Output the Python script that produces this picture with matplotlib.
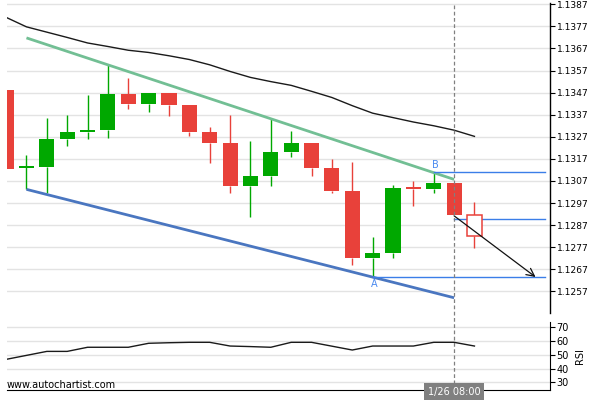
import matplotlib
matplotlib.use("Agg")
import matplotlib.pyplot as plt
import matplotlib.transforms as mtransforms
import numpy as np

# ---------------- data ----------------
opens  = [1.13482, 1.13132, 1.13134, 1.13261, 1.13293, 1.13300, 1.13463, 1.13418,
          1.13468, 1.13414, 1.13291, 1.13242, 1.13048, 1.13094, 1.13202, 1.13242,
          1.13128, 1.13024, 1.12722, 1.12745, 1.13044, 1.13033, 1.13060, 1.12914]
highs  = [1.13482, 1.13186, 1.13353, 1.13367, 1.13458, 1.13598, 1.13535, 1.13468,
          1.13468, 1.13414, 1.13313, 1.13367, 1.13249, 1.13352, 1.13296, 1.13242,
          1.13168, 1.13158, 1.12815, 1.13051, 1.13071, 1.13112, 1.13060, 1.12973]
lows   = [1.13124, 1.13032, 1.13014, 1.13227, 1.13258, 1.13263, 1.13397, 1.13383,
          1.13365, 1.13273, 1.13150, 1.13014, 1.12905, 1.13046, 1.13180, 1.13092,
          1.13017, 1.12688, 1.12634, 1.12720, 1.12956, 1.13014, 1.12917, 1.12765]
closes = [1.13124, 1.13134, 1.13260, 1.13291, 1.13300, 1.13463, 1.13418, 1.13468,
          1.13414, 1.13293, 1.13243, 1.13048, 1.13092, 1.13201, 1.13242, 1.13130,
          1.13026, 1.12722, 1.12744, 1.13038, 1.13033, 1.13060, 1.12917, 1.12819]
moving_avg = [1.13811, 1.13768, 1.13744, 1.13720, 1.13695, 1.13679, 1.13662, 1.13652,
              1.13637, 1.13620, 1.13596, 1.13566, 1.13539, 1.13520, 1.13503, 1.13476,
              1.13448, 1.13411, 1.13377, 1.13357, 1.13337, 1.13320, 1.13300, 1.13272]
rsi = [46.7, 49.6, 52.5, 52.5, 55.5, 55.5, 55.5, 58.4, 58.8, 59.1, 59.1, 56.4,
       56.0, 55.5, 59.1, 59.1, 56.3, 53.5, 56.4, 56.4, 56.4, 59.1, 59.1, 56.4]

upper_line_x = [1, 22]
upper_line_y = [1.13718, 1.13077]
lower_line_x = [1, 22]
lower_line_y = [1.13032, 1.12541]
point_a = (18, 1.12634)
point_b = (21, 1.13112)
forecast_level = 1.12896
arrow_x = [22, 26]
arrow_y = [1.12912, 1.12635]
hline_end = 26.47
current_index = 22
date_label = "1/26 08:00"
price_ticks = [1.1257, 1.1267, 1.1277, 1.1287, 1.1297, 1.1307, 1.1317,
               1.1327, 1.1337, 1.1347, 1.1357, 1.1367, 1.1377, 1.1387]
rsi_ticks = [30, 40, 50, 60, 70]

# ---------------- styling ----------------
RED = "#e8413a"
GREEN = "#00a800"
GRID = "#e3e3e3"
BLUE_TL = "#4a76c0"
GREEN_TL = "#72bf94"
BLUE_H = "#3b7ee8"
LABEL_BLUE = "#4a8af0"

plt.rcParams['font.family'] = ['DejaVu Sans']

fig = plt.figure(figsize=(6, 4), dpi=100)
W, H = 600.0, 400.0
ax = fig.add_axes([7 / W, 1 - 313 / H, 543 / W, (313 - 3) / H])
ax2 = fig.add_axes([7 / W, 1 - 390.3 / H, 543 / W, (390.3 - 321.7) / H])

xlim = (0.044, 26.71)
x = np.arange(len(opens))

# grid
for t in price_ticks:
    ax.axhline(t, color=GRID, lw=1, zorder=0)

# candles
bw = 0.74
min_body = 0.00006
for i in x:
    o, h, l, c = opens[i], highs[i], lows[i], closes[i]
    col = GREEN if c >= o else RED
    top, bot = max(o, c), min(o, c)
    ax.plot([i, i], [top, h], color=col, lw=1, zorder=2, solid_capstyle='butt')
    ax.plot([i, i], [l, bot], color=col, lw=1, zorder=2, solid_capstyle='butt')
    if i == len(opens) - 1:
        ax.bar(i, top - bot, bottom=bot, width=bw, facecolor='white',
               edgecolor=col, linewidth=1.1, zorder=3)
    else:
        thin = top - bot < min_body
        ax.bar(i, min_body if thin else top - bot,
               bottom=(bot + top) / 2 - min_body / 2 if thin else bot,
               width=bw, color=col, linewidth=0, zorder=3)

# moving average
ax.plot(x, moving_avg, color='#1a1a1a', lw=1, zorder=2)

# trend lines
ax.plot(upper_line_x, upper_line_y, color=GREEN_TL, lw=2, zorder=2, solid_capstyle='butt')
ax.plot(lower_line_x, lower_line_y, color=BLUE_TL, lw=2, zorder=2, solid_capstyle='butt')

# horizontal levels
ax.plot([point_b[0], hline_end], [point_b[1], point_b[1]], color=BLUE_H, lw=1, zorder=2)
ax.plot([point_a[0], hline_end], [point_a[1], point_a[1]], color=BLUE_H, lw=1, zorder=2)
ax.plot([current_index, hline_end], [forecast_level, forecast_level], color=BLUE_H, lw=1, zorder=2)

ax.text(point_b[0] + 0.1, point_b[1] + 0.00006, "B", color=LABEL_BLUE, fontsize=7,
        ha='center', va='bottom')
ax.text(point_a[0] + 0.1, point_a[1] - 0.00006, "A", color=LABEL_BLUE, fontsize=7,
        ha='center', va='top')

# arrow
ax.annotate("", xy=(arrow_x[1], arrow_y[1]), xytext=(arrow_x[0], arrow_y[0]),
            arrowprops=dict(arrowstyle='->', color='#111111', lw=0.9,
                            mutation_scale=14, shrinkA=0, shrinkB=0), zorder=4)

ax.set_xlim(*xlim)
ax.set_ylim(1.12472, 1.13876)
ax.set_yticks(price_ticks)
ax.set_yticklabels([f"{t:.4f}" for t in price_ticks])
ax.yaxis.tick_right()
ax.tick_params(axis='y', direction='out', length=3.6, width=0.8, pad=1.2, labelsize=6.6)
ax.set_xticks([])
for s in ['left', 'top', 'bottom']:
    ax.spines[s].set_visible(False)
ax.spines['right'].set_linewidth(1)

# RSI panel
for t in rsi_ticks:
    ax2.axhline(t, color=GRID, lw=1, zorder=0)
ax2.plot(x, rsi, color='#1a1a1a', lw=1, zorder=2)
ax2.set_xlim(*xlim)
ax2.set_ylim(24.2, 74.1)
ax2.set_yticks(rsi_ticks)
ax2.yaxis.tick_right()
ax2.yaxis.set_label_position('right')
ax2.set_ylabel("RSI", fontsize=7, labelpad=4)
ax2.tick_params(axis='y', direction='out', length=3.6, width=0.8, pad=1.2, labelsize=7)
ax2.set_xticks([])
for s in ['left', 'top']:
    ax2.spines[s].set_visible(False)

# vertical dashed line through both panels
trans = mtransforms.blended_transform_factory(ax.transData, fig.transFigure)
vline = plt.Line2D([current_index, current_index], [1 - 390.3 / H, 1 - 4 / H],
                   transform=trans, color='#808080', lw=0.9, ls=(0, (3, 2)), zorder=2)
fig.add_artist(vline)

# date label (drawn above the dashed line)
fig.text(current_index, 1 - 391.5 / H, date_label, transform=trans, color='white',
         fontsize=7, ha='center', va='center', zorder=5,
         bbox=dict(boxstyle='square,pad=0.4', fc='#808080', ec='none'))

fig.text(7 / W, 1 - 388 / H, "www.autochartist.com", fontsize=7, va='baseline', ha='left')

fig.savefig("out.png", dpi=100)
